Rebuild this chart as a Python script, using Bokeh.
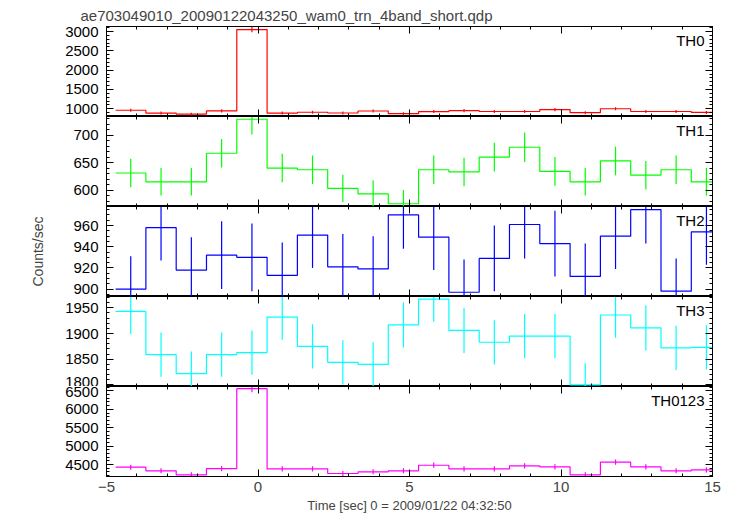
from bokeh.plotting import figure
from bokeh.layouts import column
from bokeh.models import (Range1d, SingleIntervalTicker, LinearAxis, Label,
                          CustomLabelingPolicy)
from bokeh.embed import file_html
from bokeh.resources import INLINE

# ---- data ----
centers = [-4.2, -3.2, -2.2, -1.2, -0.2, 0.8, 1.8, 2.8, 3.8, 4.8,
           5.8, 6.8, 7.8, 8.8, 9.8, 10.8, 11.8, 12.8, 13.8, 14.8]
bin_width = 1.0

th0 = [962, 888, 862, 945, 3050, 888, 910, 890, 942, 872,
       928, 952, 930, 930, 978, 898, 1000, 930, 930, 905]
th0_err = [40, 39, 38, 40, 72, 39, 39, 39, 40, 38,
           39, 40, 39, 39, 40, 39, 41, 39, 39, 39]

th1 = [631, 615, 615, 667, 729, 640, 637, 603, 593, 575,
       637, 633, 660, 678, 634, 615, 653, 627, 637, 615]
th1_err = [26, 25, 25, 26, 28, 26, 26, 25, 25, 25,
           26, 26, 26, 27, 26, 25, 26, 26, 26, 25]

th2 = [900, 958, 918, 932, 930, 913, 951, 921, 919, 970,
       949, 897, 929, 961, 943, 912, 950, 975, 898, 954]
th2_err = [31, 31, 31, 32, 32, 31, 31, 31, 31, 32,
           31, 31, 31, 32, 31, 31, 31, 32, 31, 31]

th3 = [1943, 1859, 1822, 1859, 1863, 1932, 1875, 1844, 1840, 1917,
       1967, 1906, 1883, 1895, 1895, 1800, 1936, 1911, 1872, 1873]
th3_err = [44, 43, 43, 43, 43, 44, 43, 43, 43, 44,
           44, 44, 43, 43, 43, 42, 44, 44, 43, 43]

th0123 = [4427, 4329, 4221, 4391, 6560, 4383, 4383, 4256, 4302, 4329,
          4481, 4383, 4383, 4464, 4437, 4221, 4563, 4437, 4329, 4356]
th0123_err = [70, 69, 68, 70, 95, 70, 70, 68, 69, 69,
              71, 70, 70, 71, 70, 68, 71, 70, 69, 70]

names = ["TH0", "TH1", "TH2", "TH3", "TH0123"]
series = [th0, th1, th2, th3, th0123]
errors = [th0_err, th1_err, th2_err, th3_err, th0123_err]
colors = ["#ff0000", "#00ff00", "#0000ff", "#00ffff", "#ff00ff"]
y_ranges = [(800, 3130), (570, 734), (893, 978), (1797, 1972), (4175, 6620)]
y_intervals = [500, 50, 20, 50, 500]
y_minor = [5, 5, 4, 5, 5]

x_ticks_major = 5
x_tick_overrides = {-5: "\u22125"}
title_text = "ae703049010_20090122043250_wam0_trn_4band_short.qdp"
x_label = "Time [sec] 0 = 2009/01/22 04:32:50"
y_label = "Counts/sec"

FONT = "Liberation Sans"
FRAME_W = 606
FRAME_H = 90
LEFT = 106
RIGHT = 12
x_range = Range1d(-5, 15)

edges = [c - bin_width / 2 for c in centers] + [centers[-1] + bin_width / 2]


def style_ticks(ax):
    ax.major_tick_in = 7
    ax.major_tick_out = 0
    ax.minor_tick_in = 3
    ax.minor_tick_out = 0
    ax.axis_line_color = "black"
    ax.major_tick_line_color = "black"
    ax.minor_tick_line_color = "black"
    return ax


def hidden_axis(ticker):
    ax = LinearAxis(ticker=ticker)
    ax.major_label_text_font_size = "0px"
    ax.major_label_standoff = 0
    ax.major_label_policy = CustomLabelingPolicy(code="return []")
    return style_ticks(ax)


figs = []
for i, (name, vals, errs, col, yr, yint, ymin) in enumerate(
        zip(names, series, errors, colors, y_ranges, y_intervals, y_minor)):
    last = i == len(names) - 1
    first = i == 0
    p = figure(frame_width=FRAME_W, frame_height=FRAME_H,
               x_range=x_range, y_range=Range1d(*yr),
               output_backend="svg", toolbar_location=None,
               x_axis_location=None, y_axis_location=None,
               min_border_left=LEFT, min_border_right=RIGHT,
               min_border_top=26 if first else 0, min_border_bottom=0)
    p.grid.visible = False
    p.outline_line_color = "black"
    p.outline_line_width = 1
    p.background_fill_color = "white"
    p.border_fill_color = "white"

    # left axis with labels
    la = LinearAxis(ticker=SingleIntervalTicker(interval=yint, num_minor_ticks=ymin))
    la.major_label_text_font = FONT
    la.major_label_text_font_size = "15px"
    la.major_label_text_color = "black"
    la.major_label_standoff = 8
    style_ticks(la)
    if i == 2:
        la.axis_label = y_label
        la.axis_label_text_font = FONT
        la.axis_label_text_font_size = "14px"
        la.axis_label_text_font_style = "normal"
        la.axis_label_standoff = 24
    p.add_layout(la, "left")
    p.add_layout(hidden_axis(SingleIntervalTicker(interval=yint, num_minor_ticks=ymin)), "right")
    p.add_layout(hidden_axis(SingleIntervalTicker(interval=x_ticks_major, num_minor_ticks=5)), "above")

    if last:
        ba = LinearAxis(ticker=SingleIntervalTicker(interval=x_ticks_major, num_minor_ticks=5))
        ba.major_label_text_font = FONT
        ba.major_label_text_font_size = "15px"
        ba.major_label_standoff = 5
        ba.major_label_overrides = x_tick_overrides
        style_ticks(ba)
        ba.axis_label = x_label
        ba.axis_label_text_font = FONT
        ba.axis_label_text_font_size = "13px"
        ba.axis_label_text_font_style = "normal"
        ba.axis_label_standoff = 3
        p.add_layout(ba, "below")
    else:
        p.add_layout(hidden_axis(SingleIntervalTicker(interval=x_ticks_major, num_minor_ticks=5)), "below")

    if first:
        p.title.text = title_text
        p.title.text_font = FONT
        p.title.text_font_size = "15px"
        p.title.text_font_style = "normal"
        p.title.align = "left"
        p.title.offset = -26
        p.title.standoff = 6

    p.step(x=edges, y=list(vals) + [vals[-1]], mode="after",
           line_color=col, line_width=1.2)
    p.segment(x0=centers, y0=[v - e for v, e in zip(vals, errs)],
              x1=centers, y1=[v + e for v, e in zip(vals, errs)],
              line_color=col, line_width=1.2)

    p.add_layout(Label(x=15, y=yr[1], x_offset=-8, y_offset=-5,
                       text=name, text_align="right", text_baseline="top",
                       text_font=FONT, text_font_size="15px",
                       text_color="black"))
    figs.append(p)

layout = column(*figs, spacing=0)
open("out.html", "w").write(file_html(layout, INLINE))
